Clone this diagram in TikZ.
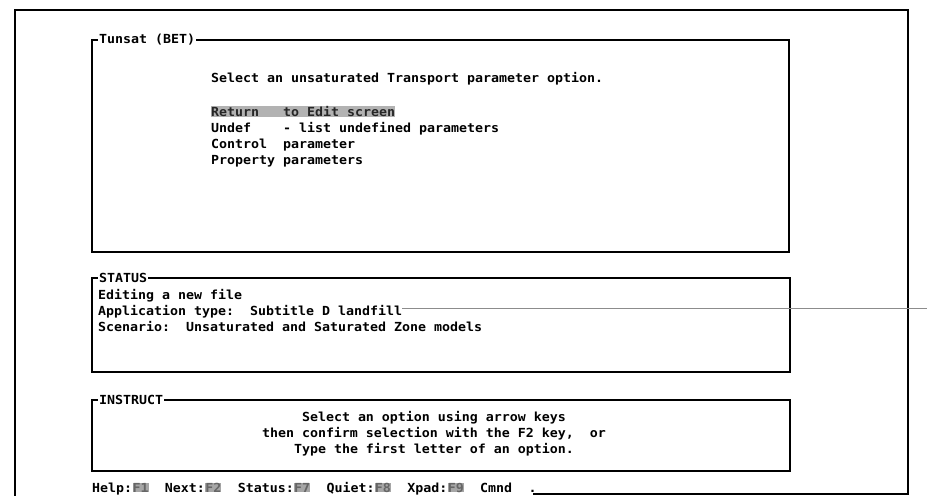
\documentclass[tikz,border=0pt]{standalone}
\usepackage{fontspec}
\newfontfamily\scr{DejaVu Sans Mono}[FakeStretch=1.063]
\begin{document}
\begin{tikzpicture}[x=1pt,y=-1pt,
  scrfont/.style={font=\scr\bfseries\fontsize{12.5}{14}\selectfont},
  txt/.style={scrfont,inner sep=0pt,anchor=base west},
  ctxt/.style={scrfont,inner sep=0pt,anchor=base},
  outerframe/.style={draw=black,line width=1.6pt},
  panel/.style={draw=black,line width=1.1pt},
  paneltitle/.style={scrfont,fill=white,inner xsep=1pt,inner ysep=0pt,anchor=west},
  hilite/.style={txt,fill=black!30,text=black!85},
  keycap/.style={txt,fill=black!35,text=black!60},
  scanline/.style={draw=black!45,line width=0.7pt}]

\useasboundingbox (0,0) rectangle (927,496);

% outer screen frame
\coordinate (fbl) at (533,494);
\coordinate (fbr) at (908,494);
\coordinate (ftr) at (908,10);
\coordinate (ftl) at (15,10);
\coordinate (fend) at (15,496);
\draw[outerframe] (fbl) -- (fbr) -- (ftr) -- (ftl) -- (fend);

% option panel
\draw[panel] (92,40) rectangle (789,252);
\node[paneltitle] (ttl) at (98,40) {Tunsat (BET)};
\node[txt] (sel) at (211,82.5) {Select an unsaturated Transport parameter option.};
\node[hilite] (ret) at (211,116.5) {Return\phantom{000}to Edit screen};
\node[txt] (und) at (211,132.5) {Undef};
\node[txt] (undd) at (283,132.5) {- list undefined parameters};
\node[txt] (ctl) at (211,148.5) {Control};
\node[txt] (ctld) at (283,148.5) {parameter};
\node[txt] (prp) at (211,164.5) {Property};
\node[txt] (prpd) at (283,164.5) {parameters};

% status panel
\draw[panel] (92,278) rectangle (790,372);
\node[paneltitle] (stt) at (98,278) {STATUS};
\node[txt] (ed) at (98,299.5) {Editing a new file};
\node[txt] (app) at (98,315.5) {Application type:\phantom{00}Subtitle D landfill};
\node[txt] (scn) at (98,331.5) {Scenario:\phantom{00}Unsaturated and Saturated Zone models};
\coordinate (sl1) at (app.north east);
\coordinate (sl2) at (927,308);
\draw[scanline] (sl1 |- sl2) -- (sl2);

% instruction panel
\draw[panel] (92,400) rectangle (790,471);
\node[paneltitle] (ins) at (98,400) {INSTRUCT};
\node[ctxt] (i1) at (434,421.5) {Select an option using arrow keys};
\node[ctxt] (i2) at (434,437.5) {then confirm selection with the F2 key,\phantom{00}or};
\node[ctxt] (i3) at (434,453.5) {Type the first letter of an option.};

% function key line
\node[txt] (h1) at (92,492) {Help:};
\node[keycap,anchor=base west] (k1) at (h1.base east) {F1};
\node[txt] (h2) at ([xshift=16pt]k1.base east) {Next:};
\node[keycap,anchor=base west] (k2) at (h2.base east) {F2};
\node[txt] (h3) at ([xshift=16pt]k2.base east) {Status:};
\node[keycap,anchor=base west] (k3) at (h3.base east) {F7};
\node[txt] (h4) at ([xshift=16pt]k3.base east) {Quiet:};
\node[keycap,anchor=base west] (k4) at (h4.base east) {F8};
\node[txt] (h5) at ([xshift=16pt]k4.base east) {Xpad:};
\node[keycap,anchor=base west] (k5) at (h5.base east) {F9};
\node[txt] (h6) at ([xshift=16pt]k5.base east) {Cmnd};
\node[txt] (h7) at ([xshift=16pt]h6.base east) {.};
\end{tikzpicture}
\end{document}
